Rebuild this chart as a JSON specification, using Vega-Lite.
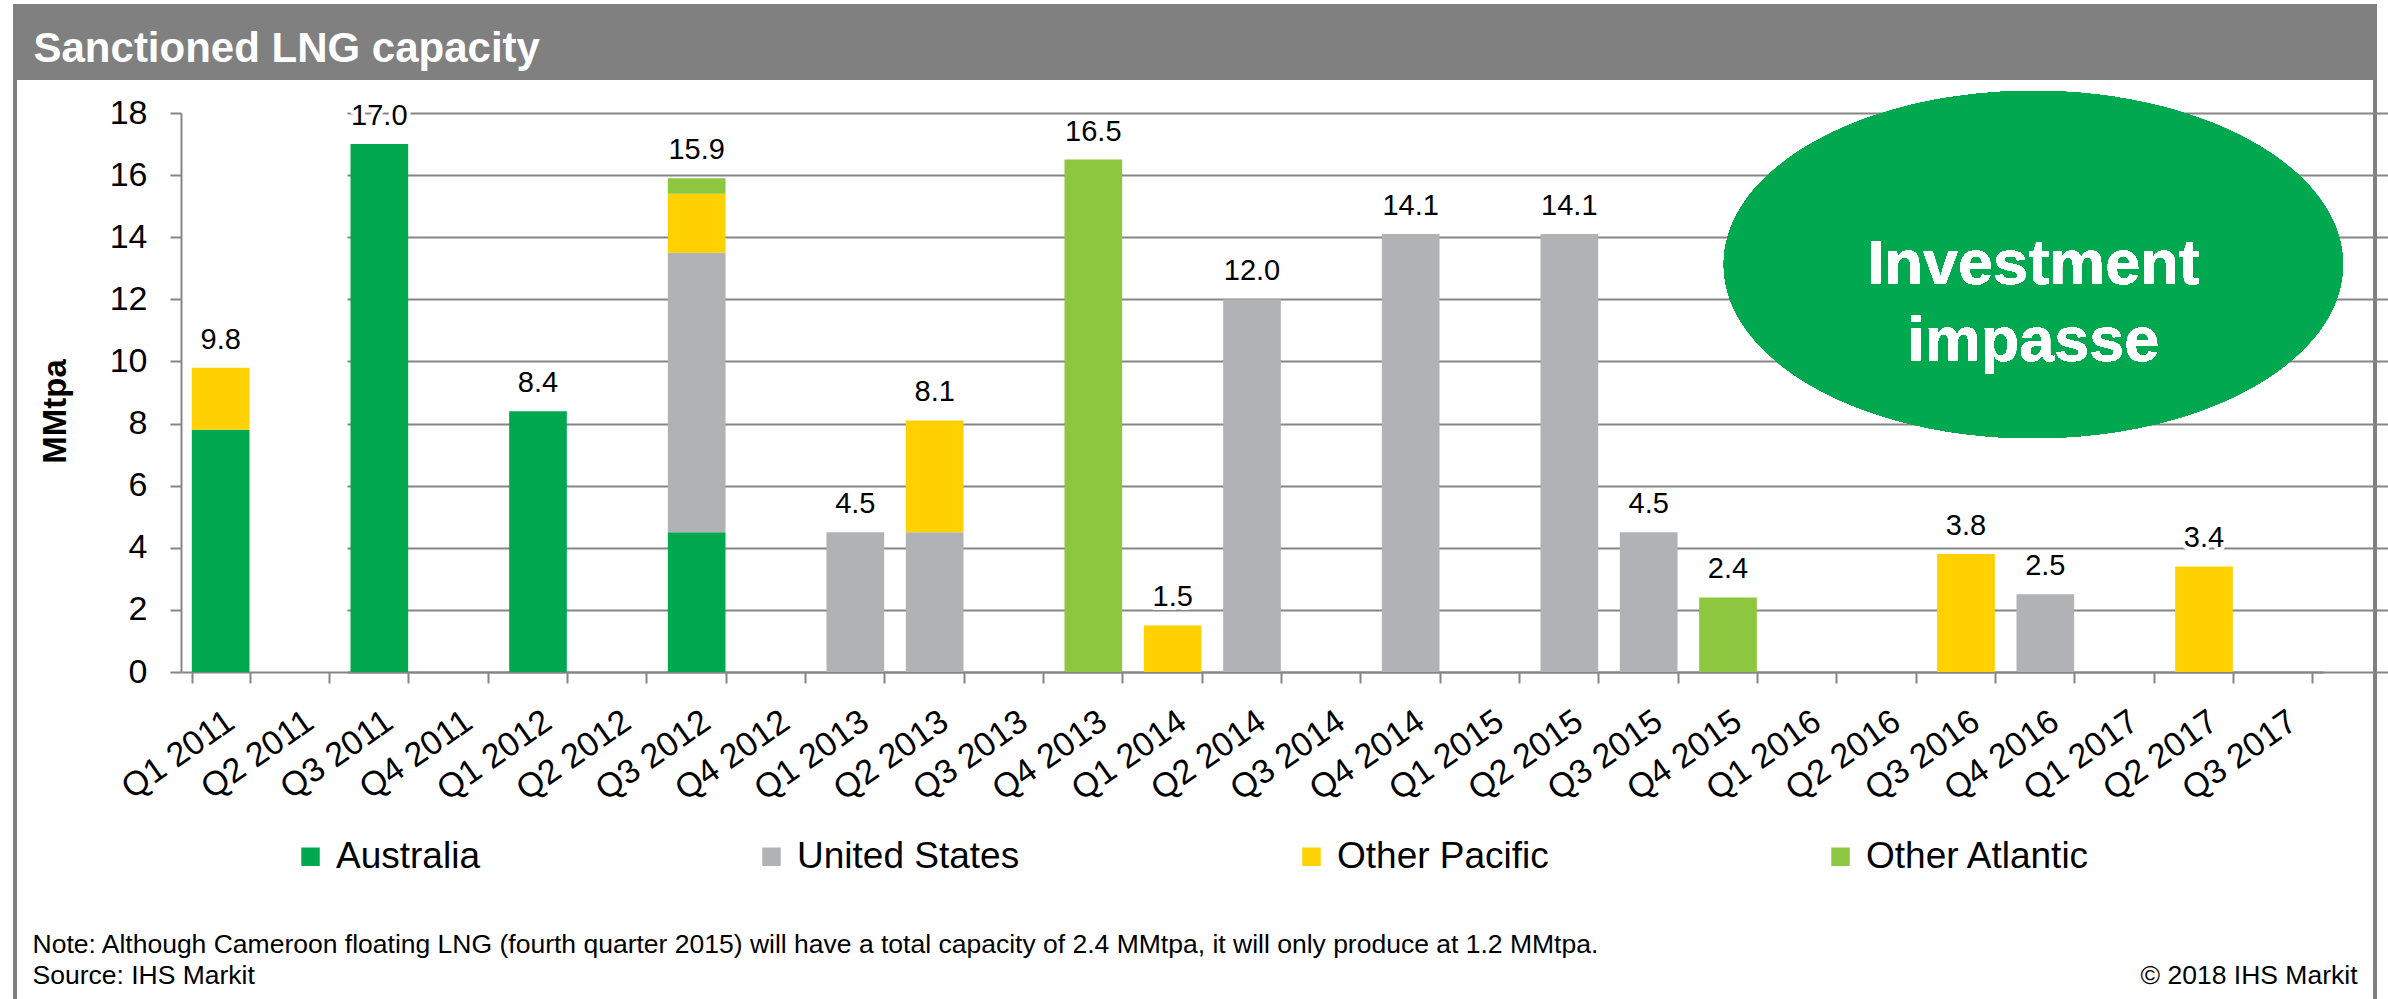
{
  "$schema": "https://vega.github.io/schema/vega-lite/v6.json",
  "background": "white",
  "autosize": {"type": "none"},
  "padding": {"left": 15, "top": 6, "right": 13, "bottom": 0},
  "width": 2360,
  "height": 996,
  "config": {
    "font": "Liberation Sans",
    "view": {
      "fill": {
        "gradient": "linear",
        "x1": 0, "y1": 0, "x2": 0, "y2": 1,
        "stops": [
          {"offset": 0, "color": "#7f807f"},
          {"offset": 0.0743, "color": "#7f807f"},
          {"offset": 0.0743, "color": "#ffffff"},
          {"offset": 1, "color": "#ffffff"}
        ]
      },
      "stroke": "#7f807f",
      "strokeWidth": 4
    },
    "axisX": {
      "offset": -330,
      "tickBand": "extent",
      "labelAngle": -35,
      "labelAlign": "right",
      "labelBaseline": "top",
      "labelFontSize": 34,
      "labelColor": "black",
      "labelPadding": 21,
      "tickSize": 11,
      "tickColor": "#858585",
      "tickWidth": 2,
      "domainColor": "#858585",
      "domainWidth": 2,
      "grid": false,
      "titleX": 17,
      "titleY": 280,
      "titleAlign": "left",
      "titleBaseline": "alphabetic",
      "titleAngle": 0,
      "titleFontSize": 26.5,
      "titleFontWeight": "normal",
      "titleColor": "black",
      "titleLineHeight": 31
    },
    "axisY": {
      "offset": -166,
      "tickCount": 9,
      "grid": true,
      "gridColor": "#858585",
      "gridWidth": 2,
      "domainColor": "#858585",
      "domainWidth": 2,
      "tickColor": "#858585",
      "tickWidth": 2,
      "tickSize": 11,
      "labelFontSize": 34,
      "labelColor": "black",
      "labelPadding": 23,
      "titleFontSize": 33,
      "titleFontWeight": "bold",
      "titleColor": "black",
      "titleX": -126,
      "titleY": 405,
      "titleAngle": -90,
      "titleAlign": "center",
      "titleBaseline": "middle"
    }
  },
  "datasets": {
    "capacity": [
      {"q": "Q1 2011", "region": "Australia", "k": 1, "v": 7.8},
      {"q": "Q1 2011", "region": "Other Pacific", "k": 3, "v": 2.0},
      {"q": "Q3 2011", "region": "Australia", "k": 1, "v": 17.0},
      {"q": "Q1 2012", "region": "Australia", "k": 1, "v": 8.4},
      {"q": "Q3 2012", "region": "Australia", "k": 1, "v": 4.5},
      {"q": "Q3 2012", "region": "United States", "k": 2, "v": 9.0},
      {"q": "Q3 2012", "region": "Other Pacific", "k": 3, "v": 1.9},
      {"q": "Q3 2012", "region": "Other Atlantic", "k": 4, "v": 0.5},
      {"q": "Q1 2013", "region": "United States", "k": 2, "v": 4.5},
      {"q": "Q2 2013", "region": "United States", "k": 2, "v": 4.5},
      {"q": "Q2 2013", "region": "Other Pacific", "k": 3, "v": 3.6},
      {"q": "Q4 2013", "region": "Other Atlantic", "k": 4, "v": 16.5},
      {"q": "Q1 2014", "region": "Other Pacific", "k": 3, "v": 1.5},
      {"q": "Q2 2014", "region": "United States", "k": 2, "v": 12.0},
      {"q": "Q4 2014", "region": "United States", "k": 2, "v": 14.1},
      {"q": "Q2 2015", "region": "United States", "k": 2, "v": 14.1},
      {"q": "Q3 2015", "region": "United States", "k": 2, "v": 4.5},
      {"q": "Q4 2015", "region": "Other Atlantic", "k": 4, "v": 2.4},
      {"q": "Q3 2016", "region": "Other Pacific", "k": 3, "v": 3.8},
      {"q": "Q4 2016", "region": "United States", "k": 2, "v": 2.5},
      {"q": "Q2 2017", "region": "Other Pacific", "k": 3, "v": 3.4}
    ]
  },
  "data": {"name": "capacity"},
  "resolve": {"axis": {"x": "independent", "y": "independent"}},
  "layer": [
    {
      "mark": {"type": "bar"},
      "encoding": {
        "x": {
          "field": "q",
          "type": "nominal",
          "scale": {
            "domain": ["Q1 2011", "Q2 2011", "Q3 2011", "Q4 2011", "Q1 2012", "Q2 2012", "Q3 2012", "Q4 2012", "Q1 2013", "Q2 2013", "Q3 2013", "Q4 2013", "Q1 2014", "Q2 2014", "Q3 2014", "Q4 2014", "Q1 2015", "Q2 2015", "Q3 2015", "Q4 2015", "Q1 2016", "Q2 2016", "Q3 2016", "Q4 2016", "Q1 2017", "Q2 2017", "Q3 2017"],
            "range": [166, 2308],
            "paddingInner": 0.273,
            "paddingOuter": 0.1365
          },
          "axis": {
            "orient": "bottom",
            "title": ["Note: Although Cameroon floating LNG (fourth quarter 2015) will have a total capacity of 2.4 MMtpa, it will only produce at 1.2 MMtpa.", "Source: IHS Markit"]
          }
        },
        "y": {
          "field": "v",
          "type": "quantitative",
          "stack": "zero",
          "scale": {"domain": [0, 18], "range": [666, 107], "nice": false, "zero": true},
          "axis": {"orient": "left", "title": "MMtpa"}
        },
        "color": {
          "field": "region",
          "type": "nominal",
          "scale": {
            "domain": ["Australia", "United States", "Other Pacific", "Other Atlantic"],
            "range": ["#00a84f", "#b1b2b5", "#ffd100", "#8dc63f"]
          },
          "legend": {
            "orient": "none",
            "legendX": 277,
            "legendY": 832,
            "direction": "horizontal",
            "columns": 4,
            "title": null,
            "symbolType": "square",
            "symbolSize": 342,
            "symbolStrokeWidth": 0,
            "symbolOpacity": 1,
            "labelFontSize": 37,
            "labelColor": "black",
            "labelOffset": 7,
            "labelLimit": 600,
            "labelBaseline": "middle",
            "columnPadding": 273,
            "padding": 0
          }
        },
        "order": {"field": "k", "type": "quantitative"}
      }
    },
    {
      "transform": [{"aggregate": [{"op": "sum", "field": "v", "as": "total"}], "groupby": ["q"]}],
      "mark": {"type": "text", "baseline": "alphabetic", "dy": -19, "fontSize": 29, "stroke": "white", "strokeWidth": 8, "strokeJoin": "round", "fill": "white"},
      "encoding": {
        "x": {"field": "q", "type": "nominal", "axis": null,
          "scale": {
            "domain": ["Q1 2011", "Q2 2011", "Q3 2011", "Q4 2011", "Q1 2012", "Q2 2012", "Q3 2012", "Q4 2012", "Q1 2013", "Q2 2013", "Q3 2013", "Q4 2013", "Q1 2014", "Q2 2014", "Q3 2014", "Q4 2014", "Q1 2015", "Q2 2015", "Q3 2015", "Q4 2015", "Q1 2016", "Q2 2016", "Q3 2016", "Q4 2016", "Q1 2017", "Q2 2017", "Q3 2017"],
            "range": [166, 2308], "paddingInner": 0.273, "paddingOuter": 0.1365}},
        "y": {"field": "total", "type": "quantitative", "axis": null, "scale": {"domain": [0, 18], "range": [666, 107], "nice": false, "zero": true}},
        "text": {"field": "total", "type": "quantitative", "format": ".1f"}
      }
    },
    {
      "transform": [{"aggregate": [{"op": "sum", "field": "v", "as": "total"}], "groupby": ["q"]}],
      "mark": {"type": "text", "baseline": "alphabetic", "dy": -19, "fontSize": 29, "color": "black"},
      "encoding": {
        "x": {"field": "q", "type": "nominal", "axis": null,
          "scale": {
            "domain": ["Q1 2011", "Q2 2011", "Q3 2011", "Q4 2011", "Q1 2012", "Q2 2012", "Q3 2012", "Q4 2012", "Q1 2013", "Q2 2013", "Q3 2013", "Q4 2013", "Q1 2014", "Q2 2014", "Q3 2014", "Q4 2014", "Q1 2015", "Q2 2015", "Q3 2015", "Q4 2015", "Q1 2016", "Q2 2016", "Q3 2016", "Q4 2016", "Q1 2017", "Q2 2017", "Q3 2017"],
            "range": [166, 2308], "paddingInner": 0.273, "paddingOuter": 0.1365}},
        "y": {"field": "total", "type": "quantitative", "axis": null, "scale": {"domain": [0, 18], "range": [666, 107], "nice": false, "zero": true}},
        "text": {"field": "total", "type": "quantitative", "format": ".1f"}
      }
    },
    {
      "mark": {"type": "point", "shape": "M1,0C1,0.3096,0.5523,0.5606,0,0.5606C-0.5523,0.5606,-1,0.3096,-1,0C-1,-0.3096,-0.5523,-0.5606,0,-0.5606C0.5523,-0.5606,1,-0.3096,1,0Z", "filled": true, "color": "#00a84f", "opacity": 1, "size": 383161, "xOffset": -12, "strokeWidth": 0},
      "encoding": {
        "x": {"datum": "Q4 2016", "type": "nominal",
          "scale": {
            "domain": ["Q1 2011", "Q2 2011", "Q3 2011", "Q4 2011", "Q1 2012", "Q2 2012", "Q3 2012", "Q4 2012", "Q1 2013", "Q2 2013", "Q3 2013", "Q4 2013", "Q1 2014", "Q2 2014", "Q3 2014", "Q4 2014", "Q1 2015", "Q2 2015", "Q3 2015", "Q4 2015", "Q1 2016", "Q2 2016", "Q3 2016", "Q4 2016", "Q1 2017", "Q2 2017", "Q3 2017"],
            "range": [166, 2308], "paddingInner": 0.273, "paddingOuter": 0.1365},
          "axis": {
            "orient": "top",
            "title": "Sanctioned LNG capacity",
            "offset": 0,
            "labels": false,
            "ticks": false,
            "domain": false,
            "grid": false,
            "titleX": 18,
            "titleY": 55,
            "titleAlign": "left",
            "titleBaseline": "alphabetic",
            "titleFontSize": 42,
            "titleFontWeight": "bold",
            "titleColor": "white"
          }
        },
        "y": {"datum": 13.12, "type": "quantitative", "axis": null,
          "scale": {"domain": [0, 18], "range": [666, 107], "nice": false, "zero": true}}
      }
    },
    {
      "mark": {"type": "text", "text": ["Investment", "impasse"], "fontSize": 63, "fontWeight": "bold", "color": "white", "align": "center", "baseline": "middle", "lineHeight": 77, "dx": -12},
      "encoding": {
        "x": {"datum": "Q4 2016", "type": "nominal",
          "scale": {
            "domain": ["Q1 2011", "Q2 2011", "Q3 2011", "Q4 2011", "Q1 2012", "Q2 2012", "Q3 2012", "Q4 2012", "Q1 2013", "Q2 2013", "Q3 2013", "Q4 2013", "Q1 2014", "Q2 2014", "Q3 2014", "Q4 2014", "Q1 2015", "Q2 2015", "Q3 2015", "Q4 2015", "Q1 2016", "Q2 2016", "Q3 2016", "Q4 2016", "Q1 2017", "Q2 2017", "Q3 2017"],
            "range": [166, 2308], "paddingInner": 0.273, "paddingOuter": 0.1365},
          "axis": {
            "orient": "top",
            "title": "© 2018 IHS Markit",
            "offset": 0,
            "labels": false,
            "ticks": false,
            "domain": false,
            "grid": false,
            "titleX": 2342,
            "titleY": 977,
            "titleAlign": "right",
            "titleBaseline": "alphabetic",
            "titleFontSize": 26.5,
            "titleFontWeight": "normal",
            "titleColor": "black"
          }
        },
        "y": {"datum": 13.12, "type": "quantitative", "axis": null, "scale": {"domain": [0, 18], "range": [666, 107], "nice": false, "zero": true}}
      }
    }
  ]
}
